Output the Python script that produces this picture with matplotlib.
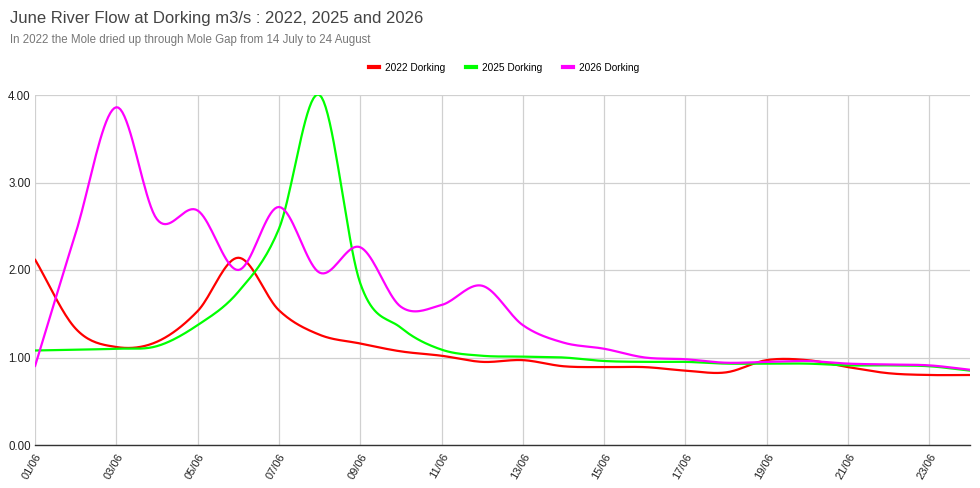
import numpy as np
import matplotlib
matplotlib.use("Agg")
import matplotlib.pyplot as plt
from matplotlib.lines import Line2D

days = list(range(1, 25))
date_labels = [f"{d:02d}/06" for d in days]

flow_2022 = [2.12, 1.33, 1.12, 1.18, 1.53, 2.14, 1.54, 1.26, 1.16, 1.07, 1.02, 0.95,
             0.97, 0.90, 0.89, 0.89, 0.85, 0.83, 0.97, 0.97, 0.89, 0.82, 0.80, 0.80]
flow_2025 = [1.08, 1.09, 1.10, 1.13, 1.37, 1.75, 2.47, 4.00, 1.85, 1.34, 1.09, 1.02,
             1.01, 1.00, 0.96, 0.95, 0.95, 0.93, 0.93, 0.93, 0.91, 0.91, 0.90, 0.85]
flow_2026 = [0.90, 2.42, 3.86, 2.58, 2.68, 2.00, 2.72, 1.97, 2.26, 1.58, 1.60, 1.82,
             1.37, 1.17, 1.10, 1.00, 0.98, 0.94, 0.95, 0.96, 0.93, 0.92, 0.91, 0.86]

series = [("2022 Dorking", flow_2022, "#ff0000"),
          ("2025 Dorking", flow_2025, "#00ff00"),
          ("2026 Dorking", flow_2026, "#ff00ff")]


def smooth(x, y, n=20):
    x = np.asarray(x, float)
    y = np.asarray(y, float)
    xs, ys = [], []
    for i in range(len(x) - 1):
        p1, p2 = y[i], y[i + 1]
        p0 = y[i - 1] if i > 0 else 2 * p1 - p2
        p3 = y[i + 2] if i + 2 < len(y) else 2 * p2 - p1
        t = np.linspace(0, 1, n, endpoint=False)
        m1 = 0.5 * (p2 - p0)
        m2 = 0.5 * (p3 - p1)
        h00 = 2 * t**3 - 3 * t**2 + 1
        h10 = t**3 - 2 * t**2 + t
        h01 = -2 * t**3 + 3 * t**2
        h11 = t**3 - t**2
        ys.append(h00 * p1 + h10 * m1 + h01 * p2 + h11 * m2)
        xs.append(x[i] + t * (x[i + 1] - x[i]))
    xs.append([x[-1]])
    ys.append([y[-1]])
    return np.concatenate(xs), np.concatenate(ys)


plt.rcParams['font.family'] = ['Liberation Sans', 'DejaVu Sans']

fig = plt.figure(figsize=(9.8, 4.88), dpi=100)
ax = fig.add_axes([35 / 980, 1 - 445 / 488, (970 - 35) / 980, (445 - 95) / 488])

for label, vals, color in series:
    sx, sy = smooth(days, vals)
    ax.plot(sx, sy, color=color, lw=1.6, label=label, solid_capstyle='round', zorder=3)

ax.set_xlim(1, 24)
ax.set_ylim(0, 4)
ax.set_yticks([0, 1, 2, 3, 4])
ax.set_yticklabels([f"{v:.2f}" for v in [0, 1, 2, 3, 4]], fontsize=8.3)
ax.set_xticks(days[::2])
ax.set_xticklabels(date_labels[::2], rotation=60, ha='right', rotation_mode='anchor', fontsize=8)
ax.tick_params(axis='both', length=0, pad=3, colors='#222222')
ax.tick_params(axis='x', pad=5)
ax.grid(True, color='#d0d0d0', lw=0.9, zorder=0)
for s in ['top', 'right', 'left']:
    ax.spines[s].set_visible(False)
ax.spines['bottom'].set_color('#333333')
ax.spines['bottom'].set_linewidth(1.0)
ax.spines['bottom'].set_zorder(4)

fig.text(10 / 980, 1 - 18 / 488, "June River Flow at Dorking m3/s : 2022, 2025 and 2026",
         fontsize=12, color='#444444', va='center', ha='left')
fig.text(10 / 980, 1 - 40 / 488, "In 2022 the Mole dried up through Mole Gap from 14 July to 24 August",
         fontsize=8.3, color='#777777', va='center', ha='left')

handles = [Line2D([0], [0], color=c, lw=3) for _, _, c in series]
fig.legend(handles, [l for l, _, _ in series], loc='center', bbox_to_anchor=(504 / 980, 1 - 68 / 488),
           ncol=3, frameon=False, fontsize=7.3, handlelength=1.0, handletextpad=0.6, columnspacing=2.0)

fig.savefig("out.png", dpi=100, facecolor='white')
